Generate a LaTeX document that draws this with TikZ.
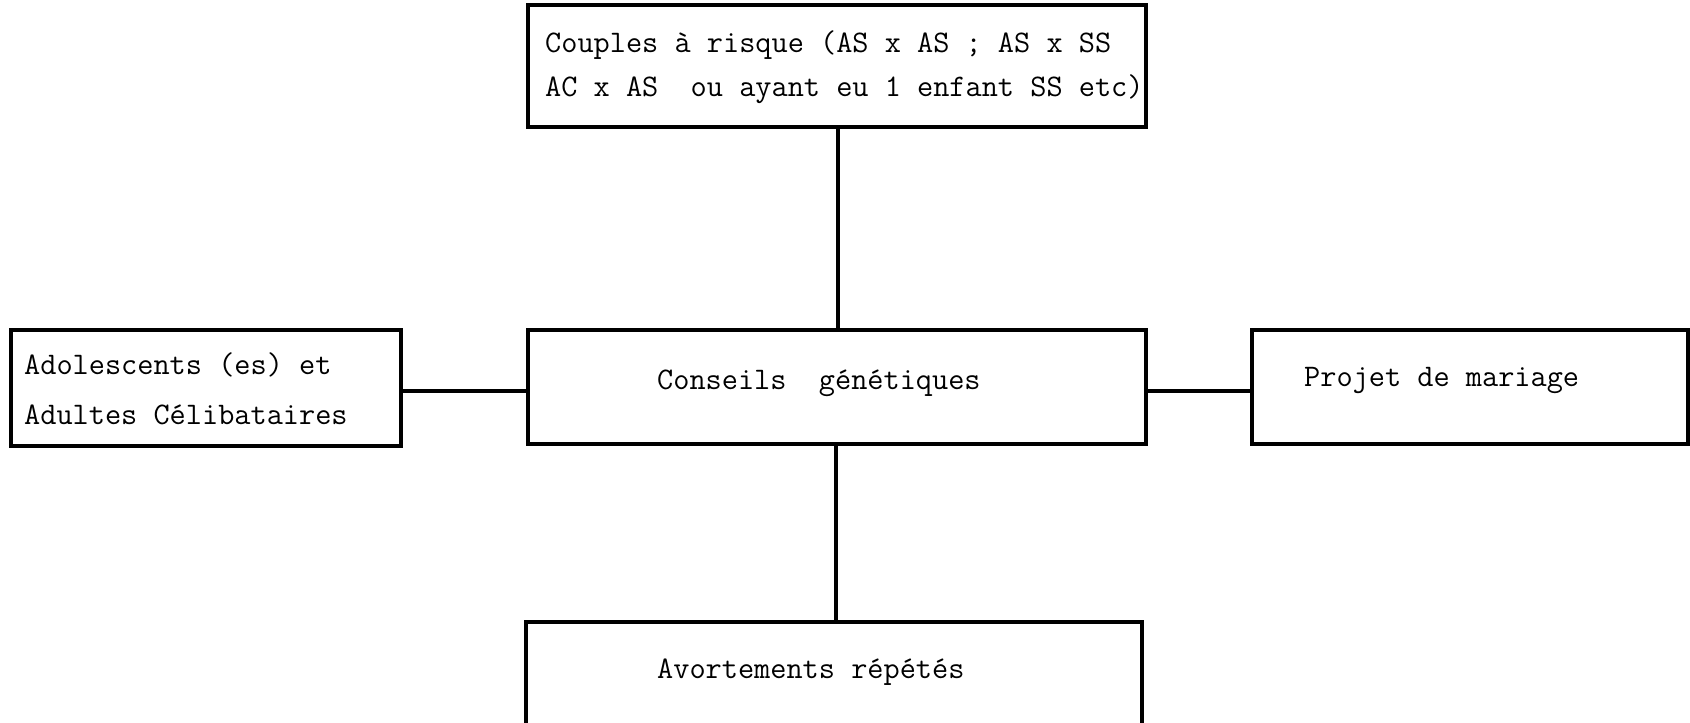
\documentclass[tikz,border=0pt]{standalone}
\usepackage{fontspec}
\begin{document}
\begin{tikzpicture}[x=1pt,y=-1pt,
  box/.style={draw, line width=3.3pt, rectangle, inner sep=0pt},
  label/.style={font=\ttfamily\addfontfeatures{FakeBold=3}\fontsize{31.4}{44}\selectfont, inner sep=0pt, align=left},
  link/.style={line width=3.6pt}]
  \useasboundingbox (0,0) rectangle (1690,723);

  % boxes
  \node[box, minimum width=618pt, minimum height=122pt] (risk) at (837,66) {};
  \node[box, minimum width=618pt, minimum height=114pt] (cons) at (837,387) {};
  \node[box, minimum width=390pt, minimum height=116pt] (ado) at (206,388) {};
  \node[box, minimum width=436pt, minimum height=114pt] (proj) at (1470,387) {};
  \node[box, minimum width=616pt, minimum height=104pt] (avort) at (834,674) {};

  % texts
  \node[label, anchor=west] (trisk) at (545,67) {Couples à risque (AS x AS ; AS x SS\\AC x AS \ ou ayant eu 1 enfant SS etc)};
  \node[label, anchor=west] (tcons) at (657,383) {Conseils \ génétiques};
  \node[label, anchor=west, text depth=0pt] (tado) at (24,389) {Adolescents (es) et\\[6pt]Adultes Célibataires};
  \node[label, anchor=west] (tproj) at (1304,380) {Projet de mariage};
  \node[label, anchor=west] (tavort) at (657,672) {Avortements répétés};

  % connectors
  \draw[link] (risk.south -| 838,0) -- (cons.north -| 838,0);
  \draw[link] (cons.south -| 836,0) -- (avort.north -| 836,0);
  \draw[link] (ado.east |- 0,391) -- (cons.west |- 0,391);
  \draw[link] (cons.east |- 0,391) -- (proj.west |- 0,391);
\end{tikzpicture}
\end{document}
